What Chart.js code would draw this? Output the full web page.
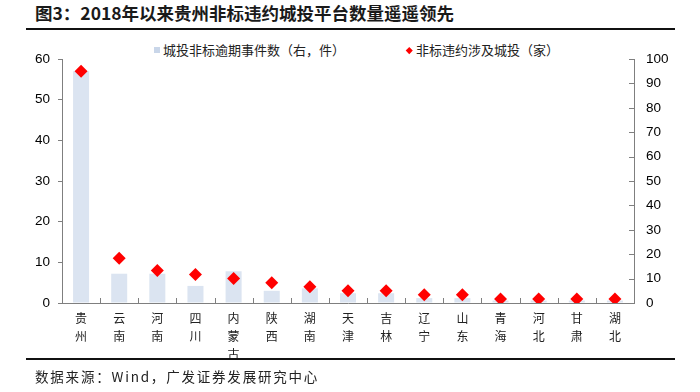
<!DOCTYPE html>
<html><head><meta charset="utf-8">
<script src="https://cdn.jsdelivr.net/npm/chart.js@4.4.1/dist/chart.umd.min.js"></script>
<style>
html,body{margin:0;padding:0;background:#fff;}
body{width:700px;height:392px;position:relative;overflow:hidden;font-family:"Noto Sans CJK SC","Noto Sans",sans-serif;color:#000;}
#title{position:absolute;left:35px;top:2px;font-size:17.5px;font-weight:bold;color:#1a1a1a;white-space:nowrap;line-height:22px;}
.rule{position:absolute;left:26px;width:649px;height:2px;background:#111;}
.leg{position:absolute;top:41px;font-size:13px;line-height:18px;white-space:nowrap;color:#222;}
#sq{position:absolute;left:154px;top:47px;width:6px;height:6px;background:#c9d6e9;}
#dm{position:absolute;left:407px;top:48px;width:4.5px;height:4.5px;background:#ff0000;transform:rotate(45deg);}
#source{position:absolute;left:35px;top:366px;font-size:13.5px;letter-spacing:1.8px;line-height:20px;white-space:nowrap;color:#222;}
#c{position:absolute;left:0;top:0;}
</style></head>
<body>
<div id="title">图3：2018年以来贵州非标违约城投平台数量遥遥领先</div>
<div class="rule" style="top:28px"></div>
<div id="sq"></div><div class="leg" style="left:163px" id="leg1"></div>
<div id="dm"></div><div class="leg" style="left:416px" id="leg2"></div>
<canvas id="c" width="700" height="392"></canvas>
<div class="rule" style="top:358px"></div>
<div id="source">数据来源：Wind，广发证券发展研究中心</div>
<script>
const categories = ['贵州','云南','河南','四川','内蒙古','陕西','湖南','天津','吉林','辽宁','山东','青海','河北','甘肃','湖北'];
const eventCounts = [95,12,12,7,13,5,6,4,4,2,2,1,1,1,1];
const companyCounts = [57,11,8,7,6,5,4,3,3,2,2,1,1,1,1];
const leftTicks = [0,10,20,30,40,50,60];
const rightTicks = [0,10,20,30,40,50,60,70,80,90,100];
const seriesNames = ['城投非标逾期事件数（右，件）','非标违约涉及城投（家）'];

document.getElementById('leg1').textContent = seriesNames[0];
document.getElementById('leg2').textContent = seriesNames[1];

const axisColor = '#7f7f7f';
const tickPlugin = {
  id:'innerTicks',
  afterDraw(chart){
    const ctx = chart.ctx, a = chart.chartArea, y2 = chart.scales.y2, x = chart.scales.x;
    ctx.save();
    ctx.strokeStyle = axisColor; ctx.lineWidth = 1;
    ctx.beginPath();
    y2.ticks.forEach((t,i)=>{
      const py = Math.round(y2.getPixelForTick(i)) + 0.5;
      ctx.moveTo(a.right-5, py); ctx.lineTo(a.right, py);
    });
    for(let i=0;i<=categories.length;i++){
      const px = Math.round(x.getPixelForValue(i-0.5)) + 0.5;
      ctx.moveTo(px, a.bottom); ctx.lineTo(px, a.bottom-5);
    }
    ctx.stroke();
    ctx.restore();
  }
};

new Chart(document.getElementById('c'), {
  data:{
    labels: categories.map(s=>s.split('')),
    datasets:[
      {type:'line', label:seriesNames[1], data:companyCounts, yAxisID:'y', showLine:false,
       pointStyle:'rectRot', pointRadius:6.5, pointHoverRadius:6.5, backgroundColor:'#ff0000', borderColor:'#ff0000', borderWidth:0, order:0},
      {type:'bar', label:seriesNames[0], data:eventCounts, yAxisID:'y2', backgroundColor:'#dbe4f1',
       barPercentage:0.42, categoryPercentage:1, order:1}
    ]
  },
  options:{
    responsive:false, animation:false,
    layout:{padding:{top:59,left:0,right:0,bottom:0}},
    plugins:{legend:{display:false}, tooltip:{enabled:false}},
    scales:{
      x:{
        offset:true,
        grid:{display:false, drawTicks:false},
        border:{display:true, color:axisColor, width:1},
        ticks:{color:'#222', padding:6, maxRotation:0, autoSkip:false,
               font:{family:'"Noto Sans CJK SC"', size:12, lineHeight:1.5}},
        afterFit(s){ s.height = 89; }
      },
      y:{
        position:'left', min:0, max:60,
        afterBuildTicks(s){ s.ticks = leftTicks.map(v=>({value:v})); },
        grid:{display:true, drawOnChartArea:false, drawTicks:true, tickLength:4, color:axisColor},
        border:{display:true, color:axisColor, width:1},
        ticks:{color:'#000', padding:8, font:{family:'"Liberation Sans", Arial', size:13.5}},
        afterFit(s){ s.width = 62; }
      },
      y2:{
        position:'right', min:0, max:100,
        afterBuildTicks(s){ s.ticks = rightTicks.map(v=>({value:v})); },
        grid:{display:true, drawOnChartArea:false, drawTicks:false},
        border:{display:true, color:axisColor, width:1},
        ticks:{color:'#000', padding:12, font:{family:'"Liberation Sans", Arial', size:13.5}},
        afterFit(s){ s.width = 66; }
      }
    }
  },
  plugins:[tickPlugin]
});
</script>
</body></html>
